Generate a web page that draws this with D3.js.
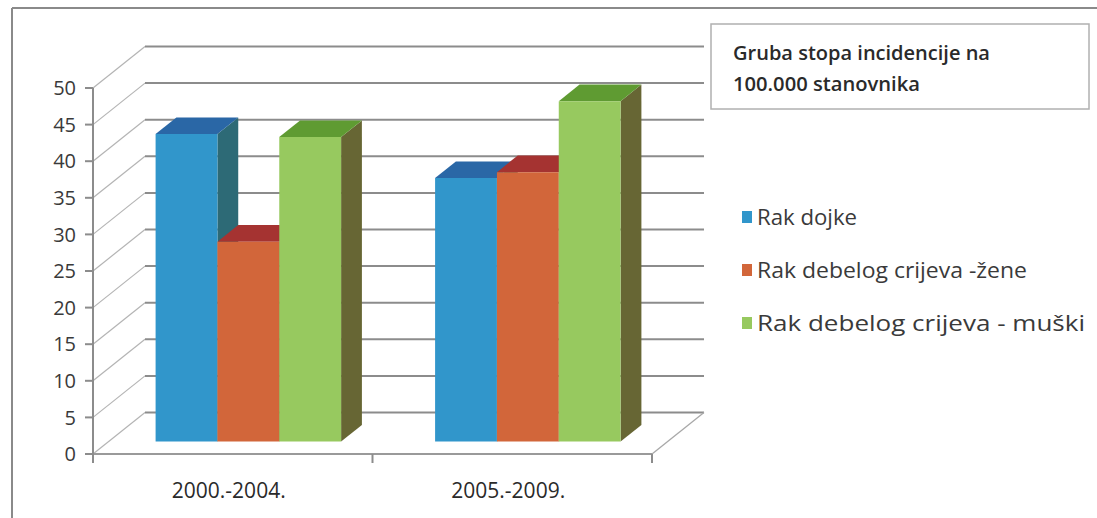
<!DOCTYPE html>
<html>
<head>
<meta charset="utf-8">
<script src="https://cdn.jsdelivr.net/npm/d3@7/dist/d3.min.js"></script>
<style>
  html, body { margin: 0; padding: 0; background: #fff; }
  svg { display: block; }
  text { font-family: "Open Sans", "Noto Sans", sans-serif; }
</style>
</head>
<body>
<svg id="chart" width="1097" height="518"></svg>
<script>
// Crude incidence rate per 100,000 inhabitants
const categories = ["2000.-2004.", "2005.-2009."];
const seriesNames = ["Rak dojke", "Rak debelog crijeva -žene", "Rak debelog crijeva - muški"];
const rakDojke = [42, 36];
const rakDebelogZene = [27.3, 36.8];
const rakDebelogMuski = [41.6, 46.5];
const yTickValues = [0, 5, 10, 15, 20, 25, 30, 35, 40, 45, 50];
const titleLines = ["Gruba stopa incidencije na", "100.000 stanovnika"];

const seriesValues = [rakDojke, rakDebelogZene, rakDebelogMuski];

// face colours per series: front, top, right side
const faceColors = [
  { front: "#3196cb", top: "#2a67a6", side: "#2d6a76" },
  { front: "#d2663a", top: "#a53331", side: "#8a3f22" },
  { front: "#97c95f", top: "#5f9b32", side: "#676634" }
];

const svg = d3.select("#chart");

// plot geometry (front plane) and depth offset of the back wall
const plotLeft = 93, plotRight = 652, plotBottom = 454, plotTop = 88;
const depthDx = 52, depthDy = -41.5;
const barZ0 = 0.3, barZ1 = 0.7;

const x = d3.scaleBand().domain(categories).range([plotLeft, plotRight]).paddingInner(0).paddingOuter(0);
const xInner = d3.scaleBand().domain(d3.range(seriesNames.length)).range([0, x.bandwidth()]).paddingInner(0).paddingOuter(0.76);
const y = d3.scaleLinear().domain([0, 50]).range([plotBottom, plotTop]);

const proj = (px, py, z) => [px + z * depthDx, py + z * depthDy];
const poly = pts => "M" + pts.map(p => p.join(",")).join("L") + "Z";

// stretch a text element horizontally to a given width
const fitWidth = (sel, w) => sel.attr("textLength", w).attr("lengthAdjust", "spacingAndGlyphs");

// outer chart frame
svg.append("line").attr("x1", 12).attr("y1", 8).attr("x2", 1097).attr("y2", 8)
  .attr("stroke", "#8a8a8a").attr("stroke-width", 2);
svg.append("line").attr("x1", 12).attr("y1", 8).attr("x2", 12).attr("y2", 518)
  .attr("stroke", "#8a8a8a").attr("stroke-width", 2);

// side wall diagonals and back wall gridlines
const grid = svg.append("g");
yTickValues.forEach(v => {
  const a = proj(plotLeft, y(v), 0), b = proj(plotLeft, y(v), 1), c = proj(plotRight, y(v), 1);
  grid.append("line").attr("x1", a[0]).attr("y1", a[1]).attr("x2", b[0]).attr("y2", b[1])
    .attr("stroke", "#b4b4b4").attr("stroke-width", 1.2);
  grid.append("line").attr("x1", b[0]).attr("y1", b[1]).attr("x2", c[0]).attr("y2", c[1])
    .attr("stroke", "#8c8c8c").attr("stroke-width", 2);
});

// floor outline
{
  const f0 = proj(plotRight, y(0), 0), f1 = proj(plotRight, y(0), 1);
  grid.append("line").attr("x1", f0[0]).attr("y1", f0[1]).attr("x2", f1[0]).attr("y2", f1[1])
    .attr("stroke", "#a8a8a8").attr("stroke-width", 1.3);
  grid.append("line").attr("x1", plotLeft).attr("y1", y(0)).attr("x2", plotRight).attr("y2", y(0))
    .attr("stroke", "#9a9a9a").attr("stroke-width", 2);
}

// bars drawn left to right so each column hides the side of its neighbour
const bars = svg.append("g");
categories.forEach((cat, ci) => {
  seriesValues.forEach((vals, si) => {
    const x0 = x(cat) + xInner(si), x1 = x0 + xInner.bandwidth();
    const yT = y(vals[ci]), yB = y(0);
    const col = faceColors[si];
    const fTL = proj(x0, yT, barZ0), fTR = proj(x1, yT, barZ0), fBR = proj(x1, yB, barZ0), fBL = proj(x0, yB, barZ0);
    const bTL = proj(x0, yT, barZ1), bTR = proj(x1, yT, barZ1), bBR = proj(x1, yB, barZ1);
    bars.append("path").attr("d", poly([fTR, bTR, bBR, fBR])).attr("fill", col.side);
    bars.append("path").attr("d", poly([fTL, bTL, bTR, fTR])).attr("fill", col.top);
    bars.append("path").attr("d", poly([fTL, fTR, fBR, fBL])).attr("fill", col.front);
  });
});

// value axis
const axis = svg.append("g");
axis.append("line").attr("x1", plotLeft).attr("y1", y(0) + 1).attr("x2", plotLeft).attr("y2", y(50))
  .attr("stroke", "#8c8c8c").attr("stroke-width", 2);
yTickValues.forEach(v => {
  axis.append("line").attr("x1", plotLeft - 8).attr("y1", y(v)).attr("x2", plotLeft).attr("y2", y(v))
    .attr("stroke", "#8c8c8c").attr("stroke-width", 2);
  axis.append("text").attr("x", 76).attr("y", y(v)).attr("dy", "0.36em")
    .attr("text-anchor", "end").attr("font-size", 20).attr("fill", "#3a3a3a").text(v);
});

// category axis ticks and labels
const catTicks = [plotLeft, ...categories.map(c => x(c) + x.bandwidth())];
catTicks.forEach(tx => {
  axis.append("line").attr("x1", tx).attr("y1", y(0)).attr("x2", tx).attr("y2", y(0) + 9)
    .attr("stroke", "#8c8c8c").attr("stroke-width", 2);
});
categories.forEach(cat => {
  axis.append("text").attr("x", x(cat) + x.bandwidth() / 2 - 4).attr("y", 490).attr("dy", "0.36em")
    .attr("text-anchor", "middle").attr("font-size", 21).attr("fill", "#2a2a2a").text(cat);
});

// title box
const tb = svg.append("g");
tb.append("rect").attr("x", 711).attr("y", 24).attr("width", 378).attr("height", 85)
  .attr("fill", "#fff").attr("stroke", "#b0b0b0").attr("stroke-width", 1.5);
const titleWidths = [257, 187];
titleLines.forEach((t, i) => {
  fitWidth(tb.append("text").attr("x", 733).attr("y", 53 + i * 31).attr("dy", "0.36em")
    .attr("font-size", 19).attr("font-weight", 600).attr("fill", "#2a2a2a").text(t), titleWidths[i]);
});

// legend
const legend = svg.append("g");
const legendWidths = [100, 270, 328];
seriesNames.forEach((name, i) => {
  const ly = 217 + i * 53;
  legend.append("rect").attr("x", 742).attr("y", ly - 6).attr("width", 10).attr("height", 12)
    .attr("fill", faceColors[i].front);
  fitWidth(legend.append("text").attr("x", 757).attr("y", ly).attr("dy", "0.36em")
    .attr("font-size", 22).attr("fill", "#3a3a3a").text(name), legendWidths[i]);
});
</script>
</body>
</html>
